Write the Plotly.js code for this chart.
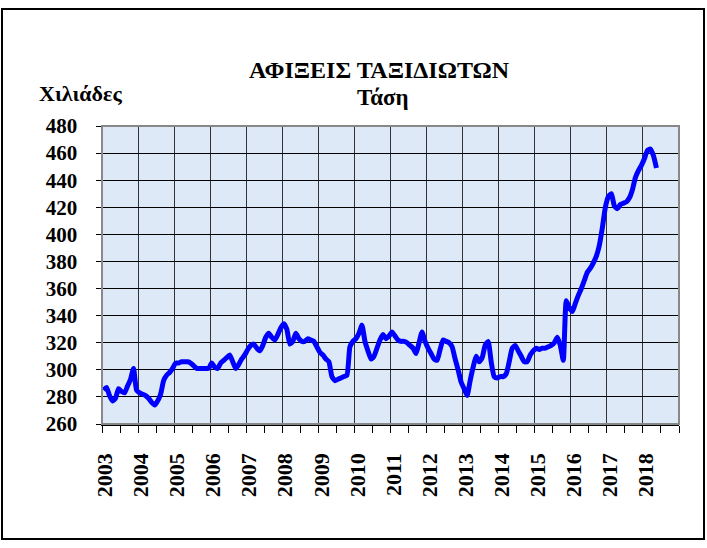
<!DOCTYPE html>
<html>
<head>
<meta charset="utf-8">
<script src="https://cdn.plot.ly/plotly-3.0.1.min.js"></script>
<style>
  html, body { margin: 0; padding: 0; background: #fff; }
  #graph { width: 707px; height: 548px; }
</style>
</head>
<body>
<div id="graph"></div>
<script>
// monthly trend values (thousands), Jan 2003 - May 2018
const years = ['2003', '2004', '2005', '2006', '2007', '2008', '2009', '2010',
               '2011', '2012', '2013', '2014', '2015', '2016', '2017', '2018'];

const v2003 = [285, 287, 281, 277, 279, 286, 284, 283, 288, 293, 301, 285];
const v2004 = [283, 282, 281, 279, 276, 274, 277, 282, 292, 296, 298, 301];
const v2005 = [305, 305, 306, 306, 306, 305, 303, 301, 301, 301, 301, 301];
const v2006 = [305, 302, 301, 305, 307, 309, 311, 306, 301, 304, 308, 311];
const v2007 = [315, 318, 319, 316, 314, 318, 324, 327, 324, 322, 326, 331];
const v2008 = [334, 330, 319, 321, 327, 323, 321, 321, 323, 322, 321, 317];
const v2009 = [313, 311, 308, 306, 295, 292, 293, 294, 295, 296, 317, 321];
const v2010 = [323, 327, 333, 321, 314, 308, 310, 316, 322, 326, 323, 325];
const v2011 = [328, 325, 322, 321, 321, 320, 318, 316, 312, 320, 328, 321];
const v2012 = [316, 312, 308, 307, 315, 322, 321, 320, 317, 308, 300, 291];
const v2013 = [286, 281, 292, 302, 310, 306, 309, 318, 321, 306, 295, 294];
const v2014 = [295, 295, 297, 306, 316, 318, 314, 310, 306, 306, 311, 314];
const v2015 = [316, 315, 316, 316, 317, 318, 320, 324, 318, 307, 351, 346];
const v2016 = [343, 349, 355, 360, 366, 372, 375, 379, 384, 392, 405, 420];
const v2017 = [428, 430, 421, 419, 422, 423, 424, 427, 433, 442, 447, 451];
const v2018 = [456, 462, 463, 458, 449];

const values = [].concat(v2003, v2004, v2005, v2006, v2007, v2008, v2009, v2010,
                         v2011, v2012, v2013, v2014, v2015, v2016, v2017, v2018);
const months = values.map((v, i) => i);

// plot box in pixels
const W = 707, H = 548;
const L = 102, R = 679, T = 126, B = 424;
const px = x => (x - L) / (R - L);
const py = y => (B - y) / (B - T);

const serif = 'Liberation Serif, Times New Roman, serif';

const trace = {
    x: months,
    y: values,
    mode: 'lines',
    type: 'scatter',
    line: { color: '#0000ff', width: 5, shape: 'spline', smoothing: 0.5 },
    hoverinfo: 'y'
};

const tickvals = years.map((y, k) => k * 12 - 0.5).concat([years.length * 12 - 0.5]);
const ticktext = years.concat(['']);

const layout = {
    width: W,
    height: H,
    margin: { l: L, r: W - R, t: T, b: H - B, pad: 0 },
    paper_bgcolor: '#ffffff',
    plot_bgcolor: '#dde9f6',
    showlegend: false,
    font: { family: serif, color: '#000', size: 20, weight: 'bold' },
    xaxis: {
        range: [-0.5, years.length * 12 - 0.5],
        tickmode: 'array',
        tickvals: tickvals,
        ticktext: ticktext,
        tickangle: -90,
        ticks: 'outside',
        ticklen: 7,
        tickwidth: 1,
        tickcolor: '#000',
        ticklabelstandoff: 12,
        ticklabelshift: 3,
        tickfont: { family: serif, size: 22, weight: 'bold', color: '#000' },
        showgrid: true,
        gridcolor: '#333',
        gridwidth: 1,
        showline: true,
        linecolor: '#000',
        linewidth: 1.5,
        zeroline: false,
        fixedrange: true,
        minor: { tick0: -0.5, dtick: 6, ticks: 'outside', ticklen: 7, tickcolor: '#000', showgrid: false }
    },
    yaxis: {
        range: [260, 480],
        tick0: 260,
        dtick: 20,
        ticks: 'outside',
        ticklen: 5,
        tickcolor: '#000',
        ticklabelstandoff: 14,
        tickfont: { family: serif, size: 21, weight: 'bold', color: '#000' },
        showgrid: true,
        gridcolor: '#000',
        gridwidth: 1,
        showline: true,
        linecolor: '#333',
        linewidth: 1.5,
        zeroline: false,
        fixedrange: true
    },
    shapes: [
        // grey frame of the plot area
        { type: 'rect', xref: 'paper', yref: 'paper', x0: 0, x1: 1, y0: 0, y1: 1,
          line: { color: '#888', width: 2 }, layer: 'above' },
        // outer chart border
        { type: 'rect', xref: 'paper', yref: 'paper',
          x0: px(2), x1: px(704), y0: py(539), y1: py(9),
          line: { color: '#000', width: 2 } }
    ],
    annotations: [
        { text: 'ΑΦΙΞΕΙΣ ΤΑΞΙΔΙΩΤΩΝ', xref: 'paper', yref: 'paper', x: px(379), y: py(70),
          showarrow: false, xanchor: 'center', yanchor: 'middle',
          font: { family: serif, size: 24, weight: 'bold', color: '#000' } },
        { text: 'Τάση', xref: 'paper', yref: 'paper', x: px(383), y: py(97),
          showarrow: false, xanchor: 'center', yanchor: 'middle',
          font: { family: serif, size: 23, weight: 'bold', color: '#000' } },
        { text: 'Χιλιάδες', xref: 'paper', yref: 'paper', x: px(80), y: py(93),
          showarrow: false, xanchor: 'center', yanchor: 'middle',
          font: { family: serif, size: 22, weight: 'bold', color: '#000' } }
    ]
};

Plotly.newPlot('graph', [trace], layout, { displayModeBar: false, staticPlot: true });
</script>
</body>
</html>
